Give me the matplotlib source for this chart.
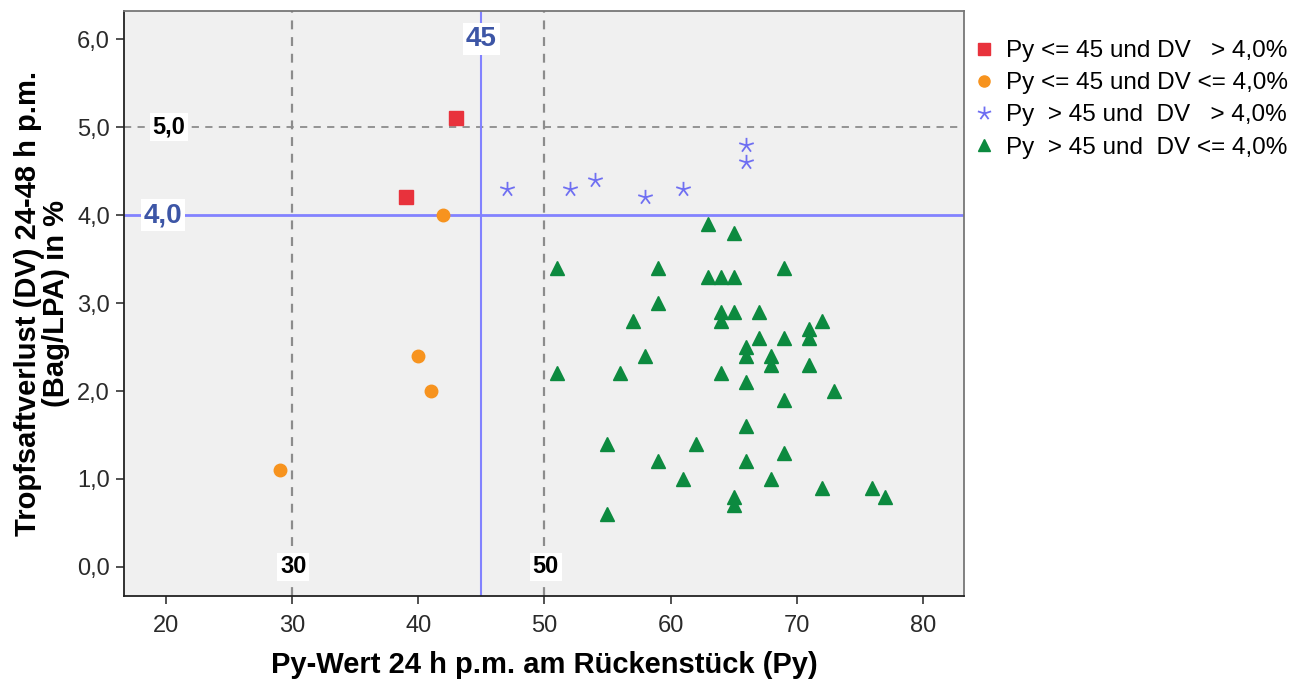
import numpy as np
import matplotlib
matplotlib.use("Agg")
import matplotlib.pyplot as plt
from matplotlib.lines import Line2D
from matplotlib.path import Path

plt.rcParams['font.family'] = ['Liberation Sans', 'DejaVu Sans']

# Group 1: Py <= 45 and DV > 4,0 %
py_low_dv_high = [39, 43]
dv_low_dv_high = [4.2, 5.1]

# Group 2: Py <= 45 and DV <= 4,0 %
py_low_dv_low = [42, 40, 41, 29]
dv_low_dv_low = [4.0, 2.4, 2.0, 1.1]

# Group 3: Py > 45 and DV > 4,0 %
py_high_dv_high = [47, 52, 54, 58, 61, 66, 66]
dv_high_dv_high = [4.3, 4.3, 4.4, 4.2, 4.3, 4.8, 4.6]

# Group 4: Py > 45 and DV <= 4,0 %
py_high_dv_low = [63, 65, 51, 59, 69, 63, 64, 65, 59, 64, 65, 67, 64, 57, 72,
                  71, 71, 67, 69, 66, 66, 68, 58, 68, 71, 51, 56, 64, 66, 73,
                  69, 66, 55, 62, 69, 59, 66, 61, 68, 72, 76, 77, 65, 65, 55]
dv_high_dv_low = [3.9, 3.8, 3.4, 3.4, 3.4, 3.3, 3.3, 3.3, 3.0, 2.9, 2.9, 2.9, 2.8, 2.8, 2.8,
                  2.7, 2.6, 2.6, 2.6, 2.5, 2.4, 2.4, 2.4, 2.3, 2.3, 2.2, 2.2, 2.2, 2.1, 2.0,
                  1.9, 1.6, 1.4, 1.4, 1.3, 1.2, 1.2, 1.0, 1.0, 0.9, 0.9, 0.8, 0.8, 0.7, 0.6]

legend_labels = [
    "Py <= 45 und DV   > 4,0%",
    "Py <= 45 und DV <= 4,0%",
    "Py  > 45 und  DV   > 4,0%",
    "Py  > 45 und  DV <= 4,0%",
]

x_ticks = [20, 30, 40, 50, 60, 70, 80]
y_ticks = [0.0, 1.0, 2.0, 3.0, 4.0, 5.0, 6.0]

# Cut-off values and reference lines
py_cut = 45
dv_cut = 4.0
dv_ref = 5.0
py_refs = [30, 50]

c_red = "#E8323C"
c_orange = "#F7931E"
c_star = "#6F6FF2"
c_green = "#0C8A3F"
c_line = "#8282FF"
c_label = "#3D56A6"

# five-armed asterisk marker (spokes from the centre)
ang = np.pi / 2 + np.arange(5) * 2 * np.pi / 5
verts, codes = [], []
for a in ang:
    verts += [(0.0, 0.0), (np.cos(a), np.sin(a))]
    codes += [Path.MOVETO, Path.LINETO]
asterisk5 = Path(verts, codes)

fig = plt.figure(figsize=(13.03, 6.84), dpi=100)
ax = fig.add_axes([124 / 1303, 1 - 596 / 684, (964 - 124) / 1303, (596 - 11) / 684])
ax.set_facecolor("#F0F0F0")

ax.set_xlim(16.67, 83.27)
ax.set_ylim(-0.33, 6.32)

# reference lines
for xv in py_refs:
    ax.axvline(xv, color="#8C8C8C", lw=1.6, ls=(0, (4, 3.5)), zorder=1)
ax.axhline(dv_ref, color="#8C8C8C", lw=1.3, ls=(0, (4, 3.5)), zorder=1)
ax.axvline(py_cut, color=c_line, lw=1.5, zorder=1)
ax.axhline(dv_cut, color=c_line, lw=2.0, zorder=1)

# scatter groups
ax.plot(py_low_dv_high, dv_low_dv_high, ls="none", marker="s", ms=9.5,
        mfc=c_red, mec=c_red, zorder=3)
ax.plot(py_low_dv_low, dv_low_dv_low, ls="none", marker="o", ms=9,
        mfc=c_orange, mec=c_orange, zorder=3)
ax.plot(py_high_dv_high, dv_high_dv_high, ls="none", marker=asterisk5, ms=11,
        mfc="none", mec=c_star, mew=1.3, zorder=3)
ax.plot(py_high_dv_low, dv_high_dv_low, ls="none", marker="^", ms=10,
        mfc=c_green, mec=c_green, zorder=3)

# labels on the reference lines
box = dict(facecolor="white", edgecolor="none", pad=2.0)
ax.text(py_cut, 6.0, "45", color=c_label, fontsize=20, fontweight="bold",
        ha="center", va="center", bbox=box, zorder=4)
ax.text(19.76, dv_cut, "4,0", color=c_label, fontsize=20, fontweight="bold",
        ha="center", va="center", bbox=box, zorder=4)
ax.text(20.24, dv_ref, "5,0", color="black", fontsize=17, fontweight="bold",
        ha="center", va="center", bbox=box, zorder=4)
for xv in py_refs:
    ax.text(xv + 0.1, 0.0, str(xv), color="black", fontsize=17, fontweight="bold",
            ha="center", va="center", bbox=box, zorder=4)

ax.set_xticks(x_ticks)
ax.set_xticklabels([str(v) for v in x_ticks])
ax.set_yticks(y_ticks)
ax.set_yticklabels([f"{v:.1f}".replace(".", ",") for v in y_ticks])
ax.tick_params(direction="out", length=6, width=1.2, color="#333333",
               labelsize=17, labelcolor="#2A2A2A")
ax.tick_params(axis="x", pad=8)
ax.tick_params(axis="y", pad=4)

for sp in ax.spines.values():
    sp.set_color("#222222")
    sp.set_linewidth(1.3)
for side in ("top", "right"):
    ax.spines[side].set_color("#777777")

ax.set_xlabel("Py-Wert 24 h p.m. am Rückenstück (Py)", fontsize=21,
              fontweight="bold", labelpad=10)
ax.set_ylabel("Tropfsaftverlust (DV) 24-48 h p.m.\n(Bag/LPA) in %", fontsize=21,
              fontweight="bold", labelpad=5, linespacing=1.0)

handles = [
    Line2D([], [], ls="none", marker="s", ms=8, mfc=c_red, mec=c_red),
    Line2D([], [], ls="none", marker="o", ms=8, mfc=c_orange, mec=c_orange),
    Line2D([], [], ls="none", marker=asterisk5, ms=10, mfc="none", mec=c_star, mew=1.3),
    Line2D([], [], ls="none", marker="^", ms=9, mfc=c_green, mec=c_green),
]
fig.legend(handles, legend_labels, loc="upper left",
           bbox_to_anchor=(974 / 1303, 1 - 40 / 684), frameon=False,
           fontsize=17.5, handlelength=0.8, handletextpad=0.5, labelspacing=0.42,
           borderaxespad=0, borderpad=0)

fig.savefig("out.png", dpi=100)
